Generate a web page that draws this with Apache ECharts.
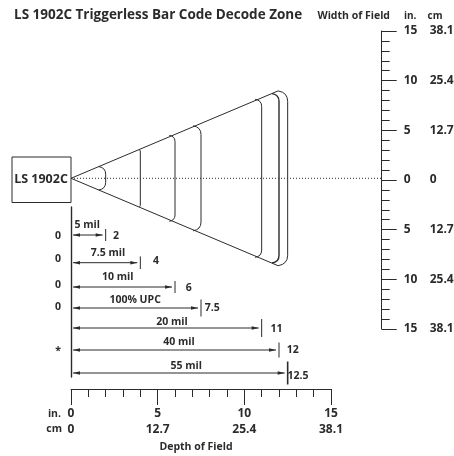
<!DOCTYPE html>
<html><head><meta charset="utf-8">
<style>html,body{margin:0;padding:0;background:#fff}#c{width:454px;height:456px}</style>
<script src="https://cdn.jsdelivr.net/npm/echarts@6/dist/echarts.min.js"></script>
</head><body><div id="c"></div>
<script>
const depthTicksIn = ['0','5','10','15'];
const depthTicksCm = ['0','12.7','25.4','38.1'];
const widthTicksIn = ['15','10','5','0','5','10','15'];
const widthTicksCm = ['38.1','25.4','12.7','0','12.7','25.4','38.1'];

const zoneNames = ['5 mil','7.5 mil','10 mil','100% UPC','20 mil','40 mil','55 mil'];
const zoneDepth = [2,4,6,7.5,11,12,12.5];
const zoneEndLabels = ['2','4','6','7.5','11','12','12.5'];
const zoneCornerDepth = [1.6,3.94,5.67,7.04,10.62,11.6,11.95];
const zoneHalfWidth = [1.18,2.86,4.33,5.29,7.96,8.53,8.8];
const zoneLineWidth = [1,1,1,1,1,1.4,1];

const rowPos = [28,55.7,80,101,121,143,166];
const rowMarkHalf = [6,6.3,6,8.5,9,7.5,11.5];
const rowNameCenter = [0.93,2.13,2.7,3.7,5.83,6.23,6.65];
const rowNamePos = [17,45,69,92,114,134,158];
const rowEndDepth = [2.6,4.9,6.8,8.15,11.85,12.8,13.1];
const rowEndPos = [28,53,80,100,121,142,168];
const rowMarks = ['0','0','0','0','','*',''];
const rowMarkPos = [28,51,77,99,0,143,0];

const ink = '#2b2b2b';
const font = '"Open Sans"';
const axisY = 0.17;

const chart = echarts.init(document.getElementById('c'), null, {renderer:'canvas'});
const txt = (x,y,text,size,align) => ({type:'text',x,y:y+1,style:{text,fill:ink,font:`bold ${size}px ${font}`,textAlign:align||'left',textVerticalAlign:'middle'}});

function coneItem(params, api){
  const i = params.dataIndex;
  const d = zoneDepth[i], cx = zoneCornerDepth[i], h = zoneHalfWidth[i];
  const pt = (a,b)=>api.coord([a,b]);
  const c1 = pt(cx,axisY+h), c2 = pt(cx,axisY-h);
  const right = pt(d,axisY)[0];
  const r = (right-c1[0])*1.1;
  const p = `M${c1[0]} ${c1[1]} Q${right} ${c1[1]+r*0.15} ${right} ${c1[1]+r} L${right} ${c2[1]-r} Q${right} ${c2[1]-r*0.15} ${c2[0]} ${c2[1]}`;
  return {type:'path',shape:{pathData:p},style:{fill:'none',stroke:ink,lineWidth:zoneLineWidth[i]}};
}
function sideItem(params, api){
  const last = zoneDepth.length-1;
  const a = api.coord([0,axisY]);
  const b = api.coord([zoneCornerDepth[last],axisY+zoneHalfWidth[last]]);
  const c = api.coord([zoneCornerDepth[last],axisY-zoneHalfWidth[last]]);
  const e = api.coord([17.9,axisY]);
  return {type:'group',children:[
    {type:'polyline',shape:{points:[b,a,c]},style:{fill:'none',stroke:ink,lineWidth:1}},
    {type:'line',shape:{x1:a[0],y1:a[1],x2:e[0],y2:e[1]},style:{stroke:ink,lineWidth:1,lineDash:[1,2]}}
  ]};
}
function rowItem(params, api){
  const i = params.dataIndex;
  const [x0,y] = api.coord([0,rowPos[i]]);
  const [xd] = api.coord([zoneDepth[i],rowPos[i]]);
  const tip = xd-3, a = x0+2;
  const kids = [
    {type:'line',shape:{x1:a,y1:y,x2:tip,y2:y},style:{stroke:ink,lineWidth:1}},
    {type:'polygon',shape:{points:[[a,y],[a+7,y-1.8],[a+7,y+1.8]]},style:{fill:ink}},
    {type:'polygon',shape:{points:[[tip,y],[tip-7,y-1.8],[tip-7,y+1.8]]},style:{fill:ink}},
    {type:'line',shape:{x1:xd,y1:y-rowMarkHalf[i],x2:xd,y2:y+rowMarkHalf[i]},style:{stroke:ink,lineWidth:i===6?1.6:1}}
  ];
  const nm = api.coord([rowNameCenter[i],rowNamePos[i]]);
  kids.push(txt(nm[0],nm[1],zoneNames[i],10.5,'center'));
  const en = api.coord([rowEndDepth[i],rowEndPos[i]]);
  kids.push(txt(en[0],en[1],zoneEndLabels[i],10.5,'center'));
  if(rowMarks[i]){
    const m = api.coord([-0.75,rowMarkPos[i]]);
    kids.push(txt(m[0],m[1],rowMarks[i],10.5,'center'));
  }
  return {type:'group',children:kids};
}

const labelLook = {color:ink,fontFamily:font,fontWeight:'bold',fontSize:12};
chart.setOption({
  animation:false,
  backgroundColor:'#fff',
  title:{text:'LS 1902C Triggerless Bar Code Decode Zone',left:9,top:3,textStyle:{color:ink,fontFamily:font,fontWeight:'bold',fontSize:13.5}},
  grid:[
    {left:71,top:31,width:260,height:298,outerBoundsMode:'none'},
    {left:71,top:207,width:260,height:170,outerBoundsMode:'none'}
  ],
  xAxis:[
    {gridIndex:0,type:'value',min:0,max:15,interval:5,position:'bottom',offset:60,
     axisLine:{show:true,onZero:false,lineStyle:{color:ink,width:1}},
     axisTick:{show:true,length:16,lineStyle:{color:ink,width:1}},
     minorTick:{show:true,splitNumber:5,length:8,lineStyle:{color:ink,width:1}},
     splitLine:{show:false},minorSplitLine:{show:false},
     axisLabel:{...labelLook,margin:19,formatter:(v)=>depthTicksIn[v/5]},
     name:'Depth of Field',nameLocation:'middle',nameGap:53,
     nameTextStyle:{color:ink,fontFamily:font,fontWeight:'bold',fontSize:10.5,padding:[0,10,0,0]}},
    {gridIndex:0,type:'value',min:0,max:15,interval:5,position:'bottom',offset:60,
     axisLine:{show:false,onZero:false},axisTick:{show:false},splitLine:{show:false},
     axisLabel:{...labelLook,margin:35,formatter:(v)=>depthTicksCm[v/5]}},
    {gridIndex:1,type:'value',min:0,max:15,show:false}
  ],
  yAxis:[
    {gridIndex:0,type:'value',min:-15,max:15,interval:5,position:'right',offset:50.7,
     axisLine:{show:true,onZero:false,lineStyle:{color:ink,width:1}},
     axisTick:{show:true,length:15,lineStyle:{color:ink,width:1}},
     minorTick:{show:true,splitNumber:5,length:8,lineStyle:{color:ink,width:1}},
     splitLine:{show:false},minorSplitLine:{show:false},
     axisLabel:{...labelLook,margin:22,align:'left',formatter:(v)=>widthTicksIn[(15-v)/5]}},
    {gridIndex:0,type:'value',min:-15,max:15,interval:5,position:'right',offset:50.7,
     axisLine:{show:false,onZero:false},axisTick:{show:false},splitLine:{show:false},
     axisLabel:{...labelLook,margin:48,align:'left',formatter:(v)=>widthTicksCm[(15-v)/5]}},
    {gridIndex:1,type:'value',min:0,max:170,inverse:true,position:'left',
     axisLine:{show:true,onZero:false,lineStyle:{color:ink,width:1.4}},
     axisTick:{show:false},axisLabel:{show:false},splitLine:{show:false}}
  ],
  series:[
    {type:'custom',coordinateSystem:'cartesian2d',xAxisIndex:0,yAxisIndex:0,clip:false,silent:true,
     data:[0],renderItem:sideItem},
    {type:'custom',coordinateSystem:'cartesian2d',xAxisIndex:0,yAxisIndex:0,clip:false,silent:true,
     data:zoneDepth,renderItem:coneItem},
    {type:'custom',coordinateSystem:'cartesian2d',xAxisIndex:2,yAxisIndex:2,clip:false,silent:true,
     data:zoneDepth,renderItem:rowItem}
  ],
  graphic:[
    {type:'rect',shape:{x:12,y:157,width:59,height:45.5},style:{fill:'#fff',stroke:ink,lineWidth:1}},
    {type:'text',x:41,y:179,style:{text:'LS 1902C',fill:ink,font:`bold 12.5px ${font}`,textAlign:'center',textVerticalAlign:'middle'}},
    {type:'text',x:390,y:16,style:{text:'Width of Field',fill:ink,font:`bold 10.5px ${font}`,textAlign:'right',textVerticalAlign:'middle'}},
    {type:'text',x:404,y:16,style:{text:'in.',fill:ink,font:`bold 10px ${font}`,textVerticalAlign:'middle'}},
    {type:'text',x:435,y:16,style:{text:'cm',fill:ink,font:`bold 10px ${font}`,textAlign:'center',textVerticalAlign:'middle'}},
    {type:'text',x:61,y:414,style:{text:'in.',fill:ink,font:`bold 10.5px ${font}`,textAlign:'right',textVerticalAlign:'middle'}},
    {type:'text',x:62,y:429,style:{text:'cm',fill:ink,font:`bold 10.5px ${font}`,textAlign:'right',textVerticalAlign:'middle'}}
  ]
});
</script></body></html>
